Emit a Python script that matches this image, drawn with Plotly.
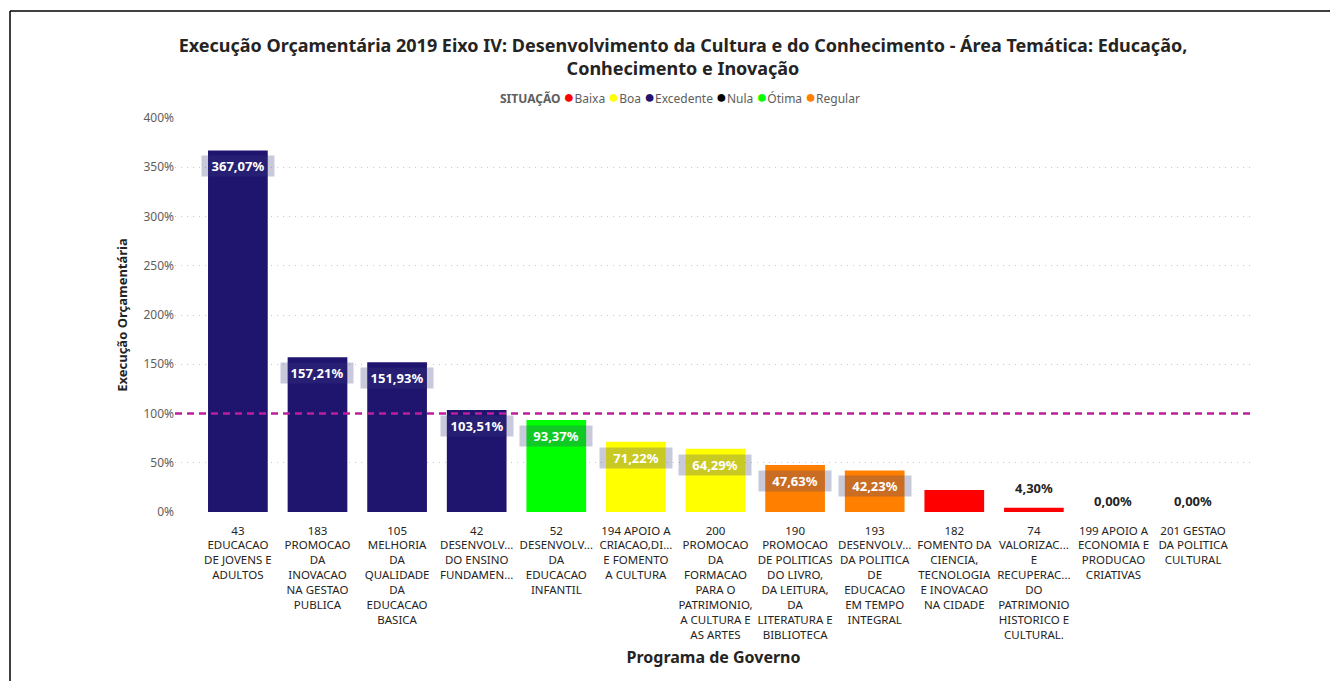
import plotly.graph_objects as go

# Programas de governo (eixo X), rótulos já quebrados em linhas
programas = [
    "43<br>EDUCACAO<br>DE JOVENS E<br>ADULTOS",
    "183<br>PROMOCAO<br>DA<br>INOVACAO<br>NA GESTAO<br>PUBLICA",
    "105<br>MELHORIA<br>DA<br>QUALIDADE<br>DA<br>EDUCACAO<br>BASICA",
    "42<br>DESENVOLV...<br>DO ENSINO<br>FUNDAMEN...",
    "52<br>DESENVOLV...<br>DA<br>EDUCACAO<br>INFANTIL",
    "194 APOIO A<br>CRIACAO,DI...<br>E FOMENTO<br>A CULTURA",
    "200<br>PROMOCAO<br>DA<br>FORMACAO<br>PARA O<br>PATRIMONIO,<br>A CULTURA E<br>AS ARTES",
    "190<br>PROMOCAO<br>DE POLITICAS<br>DO LIVRO,<br>DA LEITURA,<br>DA<br>LITERATURA E<br>BIBLIOTECA",
    "193<br>DESENVOLV...<br>DA POLITICA<br>DE<br>EDUCACAO<br>EM TEMPO<br>INTEGRAL",
    "182<br>FOMENTO DA<br>CIENCIA,<br>TECNOLOGIA<br>E INOVACAO<br>NA CIDADE",
    "74<br>VALORIZAC...<br>E<br>RECUPERAC...<br>DO<br>PATRIMONIO<br>HISTORICO E<br>CULTURAL.",
    "199 APOIO A<br>ECONOMIA E<br>PRODUCAO<br>CRIATIVAS",
    "201 GESTAO<br>DA POLITICA<br>CULTURAL",
]

# Execução orçamentária (%) por programa
execucao = [367.07, 157.21, 151.93, 103.51, 93.37, 71.22, 64.29, 47.63, 42.23, 22.3, 4.30, 0.00, 0.00]

# Situação de cada programa
situacao = ["Excedente", "Excedente", "Excedente", "Excedente", "Ótima", "Boa", "Boa",
            "Regular", "Regular", "Baixa", "Baixa", "Nula", "Nula"]

# Programas cujo rótulo de dado é exibido
mostrar_rotulo = [True, True, True, True, True, True, True, True, True, False, True, True, True]

# Ordem da legenda e cores das situações
situacoes = ["Baixa", "Boa", "Excedente", "Nula", "Ótima", "Regular"]
cores = {
    "Baixa": "#FF0000",
    "Boa": "#FFFF00",
    "Excedente": "#1F146E",
    "Nula": "#000000",
    "Ótima": "#00FF00",
    "Regular": "#FF8000",
}

meta = 100  # linha de referência (%)

FONT = "Segoe UI, Noto Sans, Open Sans, sans-serif"
idx = list(range(len(programas)))
yticks = [0, 50, 100, 150, 200, 250, 300, 350, 400]

fig = go.Figure()

for s in situacoes:
    xs = [i for i in idx if situacao[i] == s]
    ys = [execucao[i] for i in idx if situacao[i] == s]
    fig.add_trace(go.Bar(
        x=xs, y=ys, width=0.75, name=s,
        marker=dict(color=cores[s], line=dict(width=0)),
        showlegend=False, hoverinfo="x+y",
    ))

# Rótulos de dados
for i in idx:
    if not mostrar_rotulo[i]:
        continue
    v = execucao[i]
    txt = f"{v:.2f}".replace(".", ",") + "%"
    if v >= 30:
        fig.add_annotation(
            x=i, y=v, text=f"<b>{txt}</b>", showarrow=False,
            yanchor="middle", yshift=-16,
            font=dict(family=FONT, size=13, color="white"),
            bgcolor="rgba(60,60,130,0.28)", borderpad=2, width=68, height=16,
        )
    else:
        fig.add_annotation(
            x=i, y=v, text=f"<b>{txt}</b>", showarrow=False,
            yanchor="middle", yshift=20 if v > 0 else 11,
            font=dict(family=FONT, size=13, color="#252423"),
        )

# Linha de referência em 100%
fig.add_shape(
    type="line", xref="paper", yref="y", x0=0, x1=1, y0=meta, y1=meta,
    line=dict(color="#BE1E9E", width=2.5, dash="7px,5px"),
)

# Conversão de pixels da página para coordenadas "paper"
L, T, W, H = 175, 118, 1077, 394
def px_x(p):
    return (p - L) / W
def px_y(p):
    return (T + H - p) / H

# Moldura do visual (topo e lateral esquerda)
fig.add_shape(type="line", xref="paper", yref="paper",
              x0=px_x(10), x1=px_x(1330), y0=px_y(11), y1=px_y(11),
              line=dict(color="#000000", width=1.5))
fig.add_shape(type="line", xref="paper", yref="paper",
              x0=px_x(10), x1=px_x(10), y0=px_y(11), y1=px_y(681),
              line=dict(color="#000000", width=1.5))

# Legenda compacta: título + marcadores circulares
legenda = "<b>SITUAÇÃO</b> " + " ".join(
    f"<span style='color:{cores[s]}; font-size:18px'>●</span>{s}" for s in situacoes
)
fig.add_annotation(
    xref="paper", yref="paper", x=px_x(680), y=px_y(96), xanchor="center", yanchor="middle",
    text=legenda, showarrow=False,
    font=dict(family=FONT, size=12, color="#605E5C"),
)

fig.update_layout(
    width=1330, height=681,
    margin=dict(l=175, r=78, t=118, b=169),
    paper_bgcolor="white", plot_bgcolor="white",
    barmode="overlay", showlegend=False,
    font=dict(family=FONT, color="#252423"),
    title=dict(
        text="<b>Execução Orçamentária 2019 Eixo IV: Desenvolvimento da Cultura e do Conhecimento - Área Temática: Educação,<br>Conhecimento e Inovação</b>",
        x=683 / 1330, xanchor="center", xref="container",
        y=1 - 52 / 681, yanchor="middle", yref="container",
        font=dict(family=FONT, size=18, color="#252423"),
    ),
    xaxis=dict(
        tickmode="array", tickvals=idx, ticktext=programas, tickangle=0,
        ticklabelstandoff=10,
        range=[-0.79, 12.74], showgrid=False, zeroline=False, showline=False,
        tickfont=dict(family=FONT, size=11.5, color="#252423"),
        title=dict(text="<b>Programa de Governo</b>", font=dict(family=FONT, size=16, color="#252423"), standoff=10),
    ),
    yaxis=dict(
        range=[0, 400], tickmode="array", tickvals=yticks,
        ticktext=[f"{t}%" for t in yticks],
        showgrid=True, gridcolor="#C8C8C8", griddash="1px,5px", gridwidth=1,
        zeroline=False, showline=False,
        tickfont=dict(family=FONT, size=12, color="#605E5C"),
        title=dict(text="<b>Execução Orçamentária</b>", font=dict(family=FONT, size=13, color="#252423"), standoff=12),
    ),
)

fig.write_html("out.html")
